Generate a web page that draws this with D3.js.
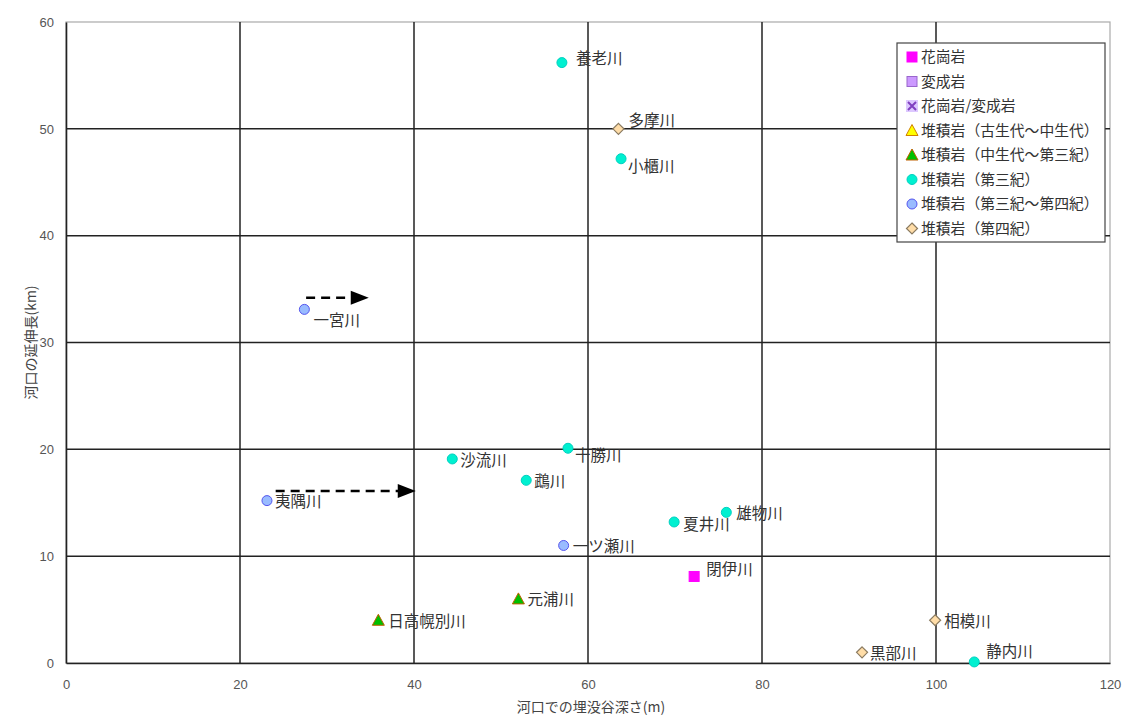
<!DOCTYPE html>
<html>
<head>
<meta charset="utf-8">
<script src="https://cdn.jsdelivr.net/npm/d3@7"></script>
<style>
  html, body { margin: 0; padding: 0; background: #fff; }
  svg { display: block; }
  .jp { font-family: "Noto Sans CJK JP", "Noto Sans", sans-serif; }
  .num { font-family: "Liberation Sans", Arial, sans-serif; }
</style>
</head>
<body>
<svg id="chart" width="1129" height="718"></svg>
<script>
// River data: buried valley depth at river mouth (m) vs. river mouth extension (km)
const rivers  = ["養老川", "多摩川", "小櫃川", "一宮川", "十勝川", "沙流川", "鵡川", "夷隅川",
                 "雄物川", "夏井川", "一ツ瀬川", "閉伊川", "元浦川", "日高幌別川", "相模川", "黒部川", "静内川"];
const depths  = [57.0, 63.5, 63.8, 27.4, 57.7, 44.4, 52.9, 23.1,
                 75.9, 69.9, 57.2, 72.2, 52.0, 35.9, 99.9, 91.5, 104.4];
const lengths = [56.2, 50.0, 47.2, 33.1, 20.1, 19.1, 17.1, 15.2,
                 14.1, 13.2, 11.0, 8.1, 6.0, 4.0, 4.0, 1.0, 0.1];
// geology class index into rockTypes
const rockOf  = [5, 7, 5, 6, 5, 5, 5, 6,
                 5, 5, 6, 0, 4, 4, 7, 7, 5];

const rockTypes = ["花崗岩", "変成岩", "花崗岩/変成岩", "堆積岩（古生代〜中生代）", "堆積岩（中生代〜第三紀）",
                   "堆積岩（第三紀）", "堆積岩（第三紀〜第四紀）", "堆積岩（第四紀）"];

// dashed arrows: [start depth, end depth, length]
const arrowFrom = [27.6, 24.1];
const arrowTo   = [34.8, 40.2];
const arrowAt   = [34.2, 16.1];

const xTicks = [0, 20, 40, 60, 80, 100, 120];
const yTicks = [0, 10, 20, 30, 40, 50, 60];
const xTitle = "河口での埋没谷深さ(m)";
const yTitle = "河口の延伸長(km)";

// marker appearance per geology class
const markerStyle = [
  { shape: "square",   fill: "#ff00ff", stroke: "#ff00ff" },
  { shape: "square",   fill: "#cc99ff", stroke: "#9966cc" },
  { shape: "cross",    fill: "#cc99ff", stroke: "#8040c0" },
  { shape: "triangle", fill: "#ffff00", stroke: "#d08000" },
  { shape: "triangle", fill: "#00c000", stroke: "#c06000" },
  { shape: "circle",   fill: "#00f0d0", stroke: "#00d0c0" },
  { shape: "circle",   fill: "#99bbff", stroke: "#5555ee" },
  { shape: "diamond",  fill: "#ffdda8", stroke: "#8a7a60" }
];

// label nudges (px) relative to each marker
const labelNudge = {
  "養老川": [14, -4], "多摩川": [10, -8], "小櫃川": [7, 8], "一宮川": [9, 11],
  "十勝川": [7, 7], "沙流川": [8, 2], "鵡川": [8, 1], "夷隅川": [8, 1],
  "雄物川": [10, 1], "夏井川": [9, 3], "一ツ瀬川": [9, 1], "閉伊川": [12, -7],
  "元浦川": [9, 1], "日高幌別川": [10, 1], "相模川": [9, 1], "黒部川": [8, 1], "静内川": [12, -10]
};

const svg = d3.select("#chart");
const margin = { left: 66, top: 22, right: 1110, bottom: 663 };

const x = d3.scaleLinear().domain([0, 120]).range([margin.left, margin.right]);
const y = d3.scaleLinear().domain([0, 60]).range([margin.bottom, margin.top]);

// plot frame (top/right light)
svg.append("rect")
  .attr("x", margin.left).attr("y", margin.top)
  .attr("width", margin.right - margin.left).attr("height", margin.bottom - margin.top)
  .attr("fill", "#fff").attr("stroke", "#aaa").attr("stroke-width", 1.2);

// gridlines
const grid = svg.append("g").attr("stroke", "#222").attr("stroke-width", 1.5);
grid.selectAll("line.v").data(xTicks.filter(t => t > 0 && t < 120)).join("line")
  .attr("x1", d => x(d)).attr("x2", d => x(d)).attr("y1", y(0)).attr("y2", y(60));
grid.selectAll("line.h").data(yTicks.filter(t => t > 0 && t < 60)).join("line")
  .attr("x1", x(0)).attr("x2", x(120)).attr("y1", d => y(d)).attr("y2", d => y(d));

// axes
const xAxis = svg.append("g").attr("transform", `translate(0,${y(0)})`)
  .call(d3.axisBottom(x).tickValues(xTicks).tickSize(0).tickPadding(17));
const yAxis = svg.append("g").attr("transform", `translate(${x(0)},0)`)
  .call(d3.axisLeft(y).tickValues(yTicks).tickSize(0).tickPadding(12));
[xAxis, yAxis].forEach(a => {
  a.select(".domain").attr("stroke", "#222").attr("stroke-width", 1.6);
  a.selectAll("text").attr("class", "num").attr("font-size", 13).attr("fill", "#555");
});

// axis titles
svg.append("text").attr("class", "jp")
  .attr("x", 591).attr("y", 712).attr("text-anchor", "middle")
  .attr("font-size", 14).attr("fill", "#444").text(xTitle);
svg.append("text").attr("class", "jp")
  .attr("transform", `translate(36,${(y(0) + y(60)) / 2 + 0}) rotate(-90)`)
  .attr("text-anchor", "middle")
  .attr("font-size", 14).attr("fill", "#444").text(yTitle);

// marker drawing helper
function drawMarker(g, s) {
  if (s.shape === "circle") {
    g.append("circle").attr("r", 5).attr("fill", s.fill).attr("stroke", s.stroke).attr("stroke-width", 1);
  } else if (s.shape === "square") {
    g.append("rect").attr("x", -5).attr("y", -5).attr("width", 10).attr("height", 10)
      .attr("fill", s.fill).attr("stroke", s.stroke).attr("stroke-width", 1);
  } else if (s.shape === "triangle") {
    g.append("path").attr("d", "M0,-6 L6,5 L-6,5 Z")
      .attr("fill", s.fill).attr("stroke", s.stroke).attr("stroke-width", 1);
  } else if (s.shape === "diamond") {
    g.append("path").attr("d", "M0,-5.5 L5.5,0 L0,5.5 L-5.5,0 Z")
      .attr("fill", s.fill).attr("stroke", s.stroke).attr("stroke-width", 1.2);
  } else if (s.shape === "cross") {
    g.append("rect").attr("x", -6).attr("y", -6).attr("width", 12).attr("height", 12)
      .attr("fill", "#ddc8ff").attr("stroke", "none");
    g.append("path").attr("d", "M-4,-4 L4,4 M4,-4 L-4,4")
      .attr("stroke", s.stroke).attr("stroke-width", 2);
  }
}

// arrows
const arrowG = svg.append("g");
arrowFrom.forEach((x1, i) => {
  const yy = y(arrowAt[i]);
  const tip = x(arrowTo[i]);
  arrowG.append("line")
    .attr("x1", x(x1)).attr("x2", tip - 14).attr("y1", yy).attr("y2", yy)
    .attr("stroke", "#000").attr("stroke-width", 2.5).attr("stroke-dasharray", "9,6");
  arrowG.append("path")
    .attr("d", `M${tip},${yy} L${tip - 18},${yy - 7} L${tip - 18},${yy + 7} Z`)
    .attr("fill", "#000");
});

// points and labels
const pts = svg.append("g");
rivers.forEach((name, i) => {
  const px = x(depths[i]), py = y(lengths[i]);
  const g = pts.append("g").attr("transform", `translate(${px},${py})`);
  drawMarker(g, markerStyle[rockOf[i]]);
  const n = labelNudge[name] || [8, 1];
  pts.append("text").attr("class", "jp")
    .attr("x", px + n[0]).attr("y", py + n[1]).attr("dy", "0.35em")
    .attr("font-size", 15.5).attr("fill", "#333").text(name);
});

// legend
const lg = svg.append("g").attr("transform", "translate(897,43)");
lg.append("rect").attr("width", 208).attr("height", 199)
  .attr("fill", "#fff").attr("stroke", "#444").attr("stroke-width", 1.2);
rockTypes.forEach((t, i) => {
  const row = lg.append("g").attr("transform", `translate(15,${14 + i * 24.5})`);
  drawMarker(row, markerStyle[i]);
  row.append("text").attr("class", "jp").attr("x", 9).attr("dy", "0.35em")
    .attr("font-size", 14.8).attr("fill", "#333").text(t);
});
</script>
</body>
</html>
